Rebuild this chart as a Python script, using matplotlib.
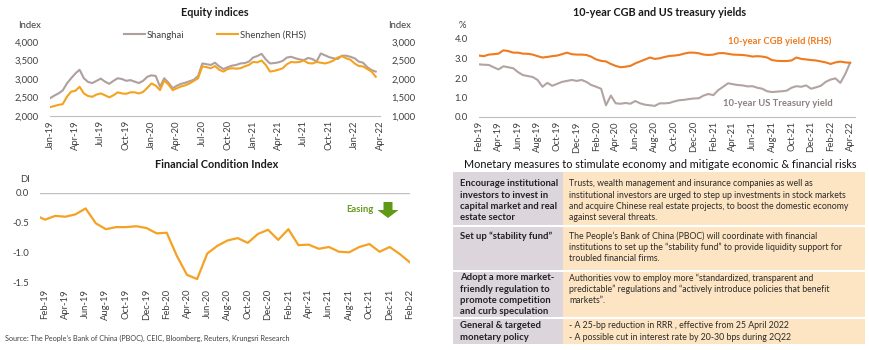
import numpy as np
import matplotlib
matplotlib.use("Agg")
import matplotlib.pyplot as plt
from matplotlib.patches import Rectangle, Polygon
from matplotlib.lines import Line2D
from matplotlib.ticker import FuncFormatter

plt.rcParams['font.family'] = ['Lato', 'DejaVu Sans']

# ---------------- DATA ----------------
# Equity indices, half-month steps from Jan-19
shanghai = [2480, 2550, 2610, 2690, 2880, 3020, 3150, 3250, 3020, 2920,
            2890, 2950, 3010, 2930, 2870, 2950, 3020, 3000, 2950, 2970,
            2930, 2890, 2950, 3060, 3100, 3080, 2790, 3020, 2900, 2750,
            2820, 2870, 2900, 2940, 2980, 3080, 3420, 3400, 3380, 3440,
            3340, 3270, 3320, 3360, 3380, 3420, 3430, 3470, 3580, 3620,
            3680, 3530, 3420, 3430, 3450, 3490, 3580, 3600, 3560, 3530,
            3510, 3570, 3540, 3470, 3690, 3640, 3590, 3560, 3540, 3630,
            3630, 3600, 3560, 3470, 3440, 3320, 3240, 3200]
shenzhen = [1240, 1270, 1300, 1320, 1520, 1660, 1680, 1790, 1610, 1540,
            1520, 1580, 1610, 1560, 1505, 1560, 1640, 1610, 1600, 1640,
            1640, 1610, 1650, 1760, 1880, 1820, 1700, 1960, 1850, 1700,
            1750, 1800, 1830, 1880, 1950, 2020, 2340, 2320, 2290, 2350,
            2250, 2200, 2270, 2290, 2280, 2290, 2340, 2380, 2460, 2450,
            2500, 2380, 2200, 2220, 2250, 2290, 2400, 2460, 2450, 2460,
            2500, 2430, 2420, 2460, 2440, 2420, 2450, 2500, 2580, 2620,
            2560, 2520, 2420, 2350, 2340, 2270, 2200, 2060]
eq_labels = ['Jan-19', 'Apr-19', 'Jul-19', 'Oct-19', 'Jan-20', 'Apr-20', 'Jul-20',
             'Oct-20', 'Jan-21', 'Apr-21', 'Jul-21', 'Oct-21', 'Jan-22', 'Apr-22']

# 10-year yields, half-month steps from Feb-19
cgb = [3.15, 3.12, 3.20, 3.22, 3.25, 3.42, 3.38, 3.30, 3.30, 3.25,
       3.24, 3.20, 3.12, 3.05, 3.08, 3.12, 3.15, 3.22, 3.30, 3.22,
       3.20, 3.20, 3.18, 3.09, 2.95, 2.88, 2.85, 2.72, 2.62, 2.55,
       2.58, 2.62, 2.75, 2.85, 2.95, 3.05, 2.98, 3.01, 3.08, 3.13,
       3.15, 3.18, 3.25, 3.30, 3.30, 3.27, 3.20, 3.18, 3.20, 3.27,
       3.28, 3.24, 3.20, 3.19, 3.18, 3.15, 3.10, 3.12, 3.10, 3.05,
       2.92, 2.88, 2.87, 2.87, 2.90, 3.05, 2.98, 2.95, 2.92, 2.90,
       2.85, 2.80, 2.72, 2.80, 2.84, 2.80, 2.78]
ust = [2.70, 2.68, 2.67, 2.55, 2.44, 2.60, 2.55, 2.50, 2.30, 2.15,
       2.10, 2.05, 1.90, 1.55, 1.75, 1.60, 1.70, 1.80, 1.85, 1.90,
       1.85, 1.90, 1.80, 1.64, 1.55, 1.45, 0.60, 1.10, 0.70, 0.68,
       0.72, 0.68, 0.82, 0.70, 0.63, 0.60, 0.57, 0.70, 0.70, 0.72,
       0.80, 0.86, 0.88, 0.92, 0.95, 0.96, 1.10, 1.18, 1.12, 1.38,
       1.55, 1.73, 1.68, 1.64, 1.62, 1.57, 1.58, 1.50, 1.45, 1.32,
       1.28, 1.30, 1.32, 1.35, 1.50, 1.58, 1.55, 1.62, 1.45, 1.52,
       1.60, 1.80, 1.92, 1.98, 1.75, 2.20, 2.78]
yl_labels = ['Feb-19', 'Apr-19', 'Jun-19', 'Aug-19', 'Oct-19', 'Dec-19', 'Feb-20',
             'Apr-20', 'Jun-20', 'Aug-20', 'Oct-20', 'Dec-20', 'Feb-21', 'Apr-21',
             'Jun-21', 'Aug-21', 'Oct-21', 'Dec-21', 'Feb-22', 'Apr-22']

# Financial Condition Index, monthly from Jan-19
fci = [-0.37, -0.45, -0.385, -0.40, -0.36, -0.26, -0.51, -0.61, -0.575, -0.575,
       -0.56, -0.59, -0.68, -0.67, -1.06, -1.38, -1.45, -1.02, -0.89, -0.80,
       -0.76, -0.84, -0.69, -0.62, -0.79, -0.61, -0.88, -0.87, -0.94, -0.91,
       -0.99, -1.00, -0.91, -0.86, -0.99, -0.91, -1.03, -1.17]
fci_labels = ['Feb-19', 'Apr-19', 'Jun-19', 'Aug-19', 'Oct-19', 'Dec-19', 'Feb-20',
              'Apr-20', 'Jun-20', 'Aug-20', 'Oct-20', 'Dec-20', 'Feb-21', 'Apr-21',
              'Jun-21', 'Aug-21', 'Oct-21', 'Dec-21', 'Feb-22']

table_left = ["Encourage institutional\ninvestors to invest in\ncapital market and real\nestate sector",
              "Set up \u201cstability fund\u201d",
              "Adopt a more market-\nfriendly regulation to\npromote competition\nand curb speculation",
              "General & targeted\nmonetary policy"]
table_right = ["Trusts, wealth management and insurance companies as well as\n"
               "institutional investors are urged to step up investments in stock markets\n"
               "and acquire Chinese real estate projects, to boost the domestic economy\n"
               "against several threats.",
               "The People\u2019s Bank of China (PBOC) will coordinate with financial\n"
               "institutions to set up the \u201cstability fund\u201d to provide liquidity support for\n"
               "troubled financial firms.",
               "Authorities vow to employ more \u201cstandardized, transparent and\n"
               "predictable\u201d regulations and \u201cactively introduce policies that benefit\n"
               "markets\u201d.",
               "- A 25-bp reduction in RRR , effective from 25 April 2022\n"
               "- A possible cut in interest rate by 20-30 bps during 2Q22"]

# ---------------- STYLE ----------------
W, H = 870, 350
TXT = '#404040'
SH_C = '#b09f9f'
SZ_C = '#f5a21e'
CGB_C = '#f07a1e'
UST_C = '#b3a3a3'
FCI_C = '#f5a224'
AX_C = '#bfbfbf'
GREEN = '#669a1e'
TS = 6.8

fig = plt.figure(figsize=(W / 100, H / 100), dpi=100)


def fax(l, t, r, b):
    return fig.add_axes([l / W, 1 - b / H, (r - l) / W, (b - t) / H])


def style(ax):
    for s in ax.spines.values():
        s.set_visible(False)
    ax.tick_params(length=0, colors=TXT, labelsize=TS)


comma = FuncFormatter(lambda v, p: f'{v:,.0f}')

# ---------------- Equity indices ----------------
ax1 = fax(50, 42, 380, 116)
x_eq = np.arange(len(shanghai)) * 0.5
ax1.plot(x_eq, shanghai, color=SH_C, lw=1.5, label='Shanghai')
ax1.set_ylim(2000, 4000)
ax1.set_yticks(np.arange(2000, 4001, 500))
ax1.yaxis.set_major_formatter(comma)
ax1.set_xlim(0, 39)
ax1.set_xticks(np.arange(0, 40, 3))
ax1.set_xticklabels(eq_labels, rotation=90)
style(ax1)
ax1.spines['bottom'].set_visible(True)
ax1.spines['bottom'].set_color(AX_C)
ax1.tick_params(axis='y', pad=8)
ax1.tick_params(axis='x', pad=3)
ax1b = ax1.twinx()
ax1b.plot(x_eq, shenzhen, color=SZ_C, lw=1.5, label='Shenzhen (RHS)')
ax1b.set_ylim(1000, 3000)
ax1b.set_yticks(np.arange(1000, 3001, 500))
ax1b.yaxis.set_major_formatter(comma)
style(ax1b)
ax1b.tick_params(axis='y', pad=8)
ax1.legend(handles=[Line2D([], [], color=SH_C, lw=1.5), Line2D([], [], color=SZ_C, lw=1.5)],
           labels=['Shanghai', 'Shenzhen (RHS)'], ncol=2, frameon=False, loc='lower center',
           bbox_to_anchor=(0.5, 0.98), fontsize=TS, handlelength=2.2, columnspacing=3.5,
           handletextpad=0.2, labelcolor=TXT, borderaxespad=0)
fig.text(215 / W, 1 - 12 / H, 'Equity indices', ha='center', va='center',
         fontsize=7.8, fontweight='bold', color='#1a1a1a')
fig.text(18 / W, 1 - 25 / H, 'Index', ha='left', va='center', fontsize=TS, color=TXT)
fig.text(388 / W, 1 - 25 / H, 'Index', ha='left', va='center', fontsize=TS, color=TXT)

# ---------------- Yields ----------------
ax2 = fax(479, 39, 855, 117)
x_yl = np.arange(len(cgb)) * 0.5
ax2.plot(x_yl, ust, color=UST_C, lw=1.5)
ax2.plot(x_yl, cgb, color=CGB_C, lw=1.5)
ax2.set_ylim(0, 4)
ax2.set_yticks(np.arange(0, 4.01, 1))
ax2.yaxis.set_major_formatter(FuncFormatter(lambda v, p: f'{v:.1f}'))
ax2.set_xlim(0, 38.5)
ax2.set_xticks(np.arange(0, 39, 2))
ax2.set_xticklabels(yl_labels, rotation=90)
style(ax2)
ax2.spines['bottom'].set_visible(True)
ax2.spines['bottom'].set_color(AX_C)
ax2.tick_params(axis='y', pad=8)
ax2.tick_params(axis='x', pad=3)
fig.text(660 / W, 1 - 12 / H, '10-year CGB and US treasury yields', ha='center', va='center',
         fontsize=7.8, fontweight='bold', color='#1a1a1a')
fig.text(462 / W, 1 - 26 / H, '%', ha='center', va='center', fontsize=TS, color=TXT)
fig.text(780 / W, 1 - 41 / H, '10-year CGB yield (RHS)', ha='center', va='center',
         fontsize=TS, fontweight='bold', color=CGB_C)
fig.text(778 / W, 1 - 104 / H, '10-year US Treasury yield', ha='center', va='center',
         fontsize=TS, fontweight='bold', color='#8c7f7f')

# ---------------- FCI ----------------
ax3 = fax(40, 193, 410, 282)
ax3.plot(np.arange(len(fci)), fci, color=FCI_C, lw=1.6)
ax3.axhline(0, color=AX_C, lw=1)
ax3.set_ylim(-1.5, 0)
ax3.set_yticks([0, -0.5, -1.0, -1.5])
ax3.yaxis.set_major_formatter(FuncFormatter(lambda v, p: f'{v:.1f}'))
ax3.set_xlim(0.5, 37)
ax3.set_xticks(np.arange(1, 38, 2))
ax3.set_xticklabels(fci_labels, rotation=90)
style(ax3)
ax3.tick_params(axis='y', pad=8)
ax3.tick_params(axis='x', pad=5)
fig.text(217 / W, 1 - 165 / H, 'Financial Condition Index', ha='center', va='center',
         fontsize=7.8, fontweight='bold', color='#1a1a1a')
fig.text(20 / W, 1 - 180 / H, 'DI', ha='left', va='center', fontsize=TS, color=TXT)
fig.text(5 / W, 1 - 338 / H,
         'Source: The People\u2019s Bank of China (PBOC), CEIC, Bloomberg, Reuters, Krungsri Research',
         ha='left', va='center', fontsize=5.2, color=TXT)

# ---------------- overlay (arrow + table) ----------------
ov = fig.add_axes([0, 0, 1, 1])
ov.set_xlim(0, W)
ov.set_ylim(H, 0)
ov.axis('off')
ov.patch.set_alpha(0)
ov.text(360, 209, 'Easing', ha='center', va='center', fontsize=TS, fontweight='bold', color=GREEN)
ov.add_patch(Polygon([(383.5, 202), (392.5, 202), (392.5, 210), (398.5, 210), (388, 218),
                      (377.5, 210), (383.5, 210)], closed=True, color='#5f9a16', lw=0))

ov.text(660, 165, 'Monetary measures to stimulate economy and mitigate economic & financial risks',
        ha='center', va='center', fontsize=7.85, color='#111111')
row_edges = [172, 226, 271, 318, 344]
first_line = [184, 236, 278, 326]
pitch = 11.3
xl, xm, xr = 453, 563, 865
for i in range(4):
    t, b = row_edges[i], row_edges[i + 1]
    ov.add_patch(Rectangle((xl, t), xm - xl, b - t, facecolor='#dcd5dc', edgecolor='none'))
    ov.add_patch(Rectangle((xm, t), xr - xm, b - t, facecolor='#fde5c3', edgecolor='none'))
    for j, line in enumerate(table_left[i].split('\n')):
        ov.text(460, first_line[i] + j * pitch, line, ha='left', va='center',
                fontsize=TS, fontweight='bold', color='#222222')
    for j, line in enumerate(table_right[i].split('\n')):
        ov.text(569, first_line[i] + j * pitch, line, ha='left', va='center',
                fontsize=6.35, color='#2a2a2a')
for yb in row_edges[1:-1]:
    ov.plot([xl, xr], [yb, yb], color='white', lw=1.5)

fig.savefig('out.png', dpi=100)
